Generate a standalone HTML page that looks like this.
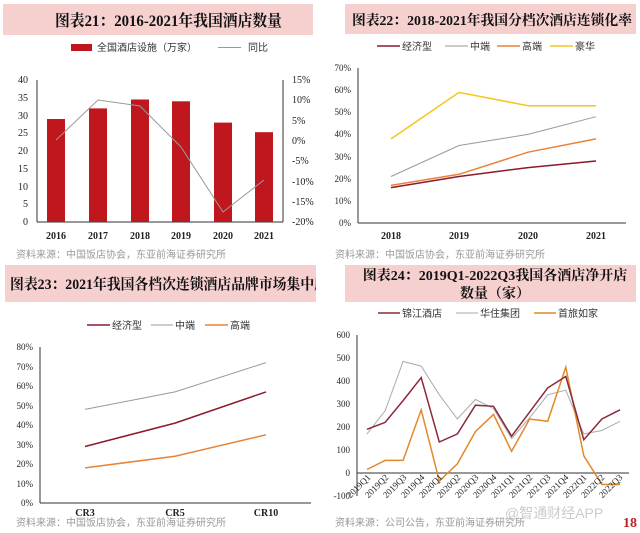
<!DOCTYPE html>
<html><head><meta charset="utf-8"><style>
html,body{margin:0;padding:0;background:#fff;}
svg{display:block;}
.t{font-family:"Liberation Serif","Noto Serif CJK SC",serif;font-weight:bold;fill:#111;}
.k{font-family:"Liberation Serif","Noto Serif CJK SC",serif;font-size:10px;fill:#222;}
.l{font-family:"Liberation Sans","Noto Sans CJK SC",sans-serif;font-size:10px;fill:#333;}
.s{font-family:"Liberation Sans","Noto Sans CJK SC",sans-serif;font-size:10px;fill:#999;}
</style></head><body>
<svg width="640" height="533" viewBox="0 0 640 533" xmlns="http://www.w3.org/2000/svg">
<!-- Panel 1 -->
<rect x="3" y="4" width="310" height="31" fill="#f6cfcf"/>
<text class="t" x="55" y="26" font-size="16" textLength="227" lengthAdjust="spacingAndGlyphs">图表21：2016-2021年我国酒店数量</text>
<rect x="71" y="44" width="21" height="7" fill="#c0161e"/>
<text class="l" x="97" y="51">全国酒店设施（万家）</text>
<line x1="218" y1="47.5" x2="241" y2="47.5" stroke="#999" stroke-width="1"/>
<text class="l" x="248" y="51">同比</text>
<line x1="37" y1="80" x2="37" y2="222" stroke="#333"/>
<line x1="37" y1="222" x2="283" y2="222" stroke="#333"/>
<line x1="283" y1="80" x2="283" y2="222" stroke="#333"/>
<g class="k" text-anchor="end">
<text x="28" y="225">0</text><text x="28" y="207">5</text><text x="28" y="190">10</text><text x="28" y="172">15</text><text x="28" y="154">20</text><text x="28" y="136">25</text><text x="28" y="119">30</text><text x="28" y="101">35</text><text x="28" y="83">40</text>
</g>
<g class="k">
<text x="292" y="225">-20%</text><text x="292" y="205">-15%</text><text x="292" y="185">-10%</text><text x="292" y="164">-5%</text><text x="292" y="144">0%</text><text x="292" y="124">5%</text><text x="292" y="103">10%</text><text x="292" y="83">15%</text>
</g>
<g fill="#c0161e">
<rect x="47" y="119" width="18" height="103"/><rect x="89" y="108.4" width="18" height="113.6"/><rect x="131" y="99.5" width="18" height="122.5"/><rect x="172" y="101.3" width="18" height="120.7"/><rect x="214" y="122.6" width="18" height="99.4"/><rect x="255" y="132.2" width="18" height="89.8"/>
</g>
<polyline points="56,140 98,100 140,106 181,147 223,212 264,180" fill="none" stroke="#999" stroke-width="1"/>
<g class="k" text-anchor="middle" style="font-weight:bold">
<text x="56" y="239">2016</text><text x="98" y="239">2017</text><text x="140" y="239">2018</text><text x="181" y="239">2019</text><text x="223" y="239">2020</text><text x="264" y="239">2021</text>
</g>
<text class="s" x="16" y="258">资料来源：中国饭店协会，东亚前海证券研究所</text>

<!-- Panel 2 -->
<rect x="345" y="4" width="291" height="30" fill="#f6cfcf"/>
<text class="t" x="352" y="25" font-size="14" textLength="280" lengthAdjust="spacingAndGlyphs">图表22：2018-2021年我国分档次酒店连锁化率</text>
<line x1="377" y1="46" x2="400" y2="46" stroke="#8b1a2a" stroke-width="1.5"/><text class="l" x="402" y="50">经济型</text>
<line x1="445" y1="46" x2="468" y2="46" stroke="#999"/><text class="l" x="470" y="50">中端</text>
<line x1="497" y1="46" x2="520" y2="46" stroke="#e8823a" stroke-width="1.5"/><text class="l" x="522" y="50">高端</text>
<line x1="550" y1="46" x2="573" y2="46" stroke="#f5c518" stroke-width="1.5"/><text class="l" x="575" y="50">豪华</text>
<line x1="358" y1="68" x2="358" y2="223" stroke="#333"/>
<line x1="358" y1="223" x2="626" y2="223" stroke="#333"/>
<g class="k" text-anchor="end" style="font-size:9px">
<text x="351" y="226">0%</text><text x="351" y="204">10%</text><text x="351" y="182">20%</text><text x="351" y="160">30%</text><text x="351" y="137">40%</text><text x="351" y="115">50%</text><text x="351" y="93">60%</text><text x="351" y="71">70%</text>
</g>
<polyline points="391,138.9 459,92.4 528,105.7 596,105.7" fill="none" stroke="#f5c518" stroke-width="1.5"/>
<polyline points="391,176.5 459,145.5 528,134.4 596,116.7" fill="none" stroke="#999" stroke-width="1"/>
<polyline points="391,185.4 459,174.3 528,152.2 596,138.9" fill="none" stroke="#e8823a" stroke-width="1.5"/>
<polyline points="391,187.6 459,176.5 528,167.6 596,161" fill="none" stroke="#8b1a2a" stroke-width="1.5"/>
<g class="k" text-anchor="middle" style="font-weight:bold">
<text x="391" y="239">2018</text><text x="459" y="239">2019</text><text x="528" y="239">2020</text><text x="596" y="239">2021</text>
</g>
<text class="s" x="335" y="258">资料来源：中国饭店协会，东亚前海证券研究所</text>

<!-- Panel 3 -->
<rect x="5" y="265" width="311" height="37" fill="#f6cfcf"/>
<text class="t" x="10" y="289" font-size="15" textLength="318" lengthAdjust="spacingAndGlyphs">图表23：2021年我国各档次连锁酒店品牌市场集中度</text>
<rect x="316" y="262" width="24" height="42" fill="#fff"/>
<line x1="87" y1="325" x2="110" y2="325" stroke="#8b1a2a" stroke-width="1.5"/><text class="l" x="112" y="329">经济型</text>
<line x1="151" y1="325" x2="173" y2="325" stroke="#999"/><text class="l" x="175" y="329">中端</text>
<line x1="205" y1="325" x2="228" y2="325" stroke="#e8823a" stroke-width="1.5"/><text class="l" x="230" y="329">高端</text>
<line x1="40" y1="347" x2="40" y2="503" stroke="#333"/>
<line x1="40" y1="503" x2="311" y2="503" stroke="#333"/>
<g class="k" text-anchor="end" style="font-size:9px">
<text x="33" y="506">0%</text><text x="33" y="487">10%</text><text x="33" y="467">20%</text><text x="33" y="448">30%</text><text x="33" y="428">40%</text><text x="33" y="409">50%</text><text x="33" y="389">60%</text><text x="33" y="370">70%</text><text x="33" y="350">80%</text>
</g>
<polyline points="85,409.4 175,391.9 266,362.6" fill="none" stroke="#999"/>
<polyline points="85,446.5 175,423.1 266,391.9" fill="none" stroke="#8b1a2a" stroke-width="1.5"/>
<polyline points="85,467.9 175,456.2 266,434.8" fill="none" stroke="#e8823a" stroke-width="1.5"/>
<g class="k" text-anchor="middle" style="font-weight:bold">
<text x="85" y="516">CR3</text><text x="175" y="516">CR5</text><text x="266" y="516">CR10</text>
</g>
<text class="s" x="16" y="526">资料来源：中国饭店协会，东亚前海证券研究所</text>

<!-- Panel 4 -->
<rect x="345" y="265" width="291" height="37" fill="#f6cfcf"/>
<text class="t" x="495" y="280" font-size="14" text-anchor="middle">图表24：2019Q1-2022Q3我国各酒店净开店</text>
<text class="t" x="495" y="298" font-size="14" text-anchor="middle">数量（家）</text>
<line x1="378" y1="313" x2="400" y2="313" stroke="#8b2a3a" stroke-width="1.5"/><text class="l" x="402" y="317">锦江酒店</text>
<line x1="456" y1="313" x2="478" y2="313" stroke="#aaa"/><text class="l" x="480" y="317">华住集团</text>
<line x1="534" y1="313" x2="556" y2="313" stroke="#e08a2a" stroke-width="1.5"/><text class="l" x="558" y="317">首旅如家</text>
<line x1="357" y1="335" x2="357" y2="496" stroke="#333"/>
<line x1="357" y1="473" x2="629" y2="473" stroke="#333"/>
<g class="k" text-anchor="end" style="font-size:9px">
<text x="350" y="338">600</text><text x="350" y="361">500</text><text x="350" y="384">400</text><text x="350" y="407">300</text><text x="350" y="430">200</text><text x="350" y="453">100</text><text x="350" y="476">0</text><text x="350" y="499">-100</text>
</g>
<polyline points="367,433.9 385.1,410.9 403.1,361.5 421.2,366.1 439.3,394.8 457.4,419 475.4,399.4 493.5,408.6 511.6,438.5 529.6,417.8 547.7,394.8 565.8,390.2 583.8,433.9 601.9,430.5 620,421.3" fill="none" stroke="#aaa"/>
<polyline points="367,469.5 385.1,460.4 403.1,460.4 421.2,409.8 439.3,481.1 457.4,463.8 475.4,431.6 493.5,414.4 511.6,451.2 529.6,419 547.7,421.3 565.8,367.2 583.8,455.8 601.9,484.5 620,484.5" fill="none" stroke="#e08a2a" stroke-width="1.5"/>
<polyline points="367,429.3 385.1,422.4 403.1,400.6 421.2,377.6 439.3,442 457.4,433.9 475.4,405.2 493.5,406.3 511.6,436.2 529.6,412.1 547.7,387.9 565.8,376.4 583.8,439.7 601.9,419 620,409.8" fill="none" stroke="#8b2a3a" stroke-width="1.5"/>
<g class="k" style="font-size:9px" text-anchor="end">
<text transform="translate(371,478) rotate(-45)">2019Q1</text>
<text transform="translate(389,478) rotate(-45)">2019Q2</text>
<text transform="translate(407,478) rotate(-45)">2019Q3</text>
<text transform="translate(425,478) rotate(-45)">2019Q4</text>
<text transform="translate(443,478) rotate(-45)">2020Q1</text>
<text transform="translate(461,478) rotate(-45)">2020Q2</text>
<text transform="translate(479,478) rotate(-45)">2020Q3</text>
<text transform="translate(497,478) rotate(-45)">2020Q4</text>
<text transform="translate(515,478) rotate(-45)">2021Q1</text>
<text transform="translate(533,478) rotate(-45)">2021Q2</text>
<text transform="translate(551,478) rotate(-45)">2021Q3</text>
<text transform="translate(569,478) rotate(-45)">2021Q4</text>
<text transform="translate(587,478) rotate(-45)">2022Q1</text>
<text transform="translate(605,478) rotate(-45)">2022Q2</text>
<text transform="translate(623,478) rotate(-45)">2022Q3</text>
</g>
<text class="s" x="335" y="526">资料来源：公司公告，东亚前海证券研究所</text>
<text x="505" y="518" font-family="Liberation Sans, Noto Sans CJK SC, sans-serif" font-size="14" fill="#ccc">@智通财经APP</text>
<text x="623" y="527" font-family="Liberation Serif, serif" font-size="14" font-weight="bold" fill="#b22">18</text>
</svg>
</body></html>
